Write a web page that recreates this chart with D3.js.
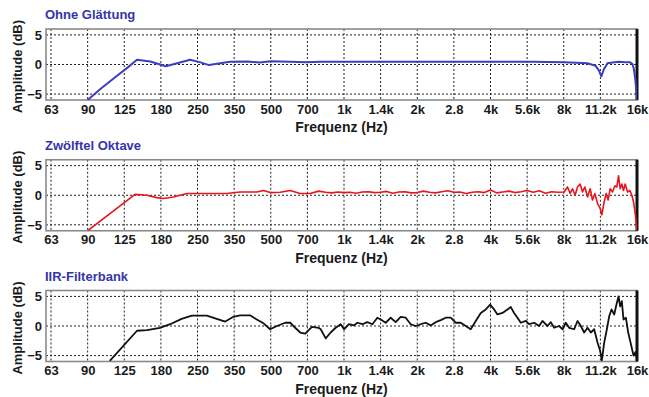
<!DOCTYPE html>
<html><head><meta charset="utf-8">
<script src="https://cdn.jsdelivr.net/npm/d3@7"></script>
<style>body{margin:0;background:#fff}svg{display:block}</style>
</head><body><svg id="c" width="649" height="397"></svg>
<script>
const tickFreqs = [62.5, 88.39, 125, 176.78, 250, 353.55, 500, 707.1, 1000, 1414.2, 2000, 2828.4, 4000, 5656.9, 8000, 11313.7, 16000];
const tickLabels = ["63","90","125","180","250","350","500","700","1k","1.4k","2k","2.8","4k","5.6k","8k","11.2k","16k"];
const yTicks = [-5, 0, 5];
const titles = ["Ohne Glättung", "Zwölftel Oktave", "IIR-Filterbank"];

// Ohne Glättung (blue)
const blueFreq = [88.4,100,115,130,141,160,185,210,233,255,279,310,340,400,450,500,600,700,800,1000,2000,4000,6000,8000,9000,10000,10800,11150,11420,11700,12100,12700,13500,14300,14930,15300,15510,15750,15900,16000];
const blueDb   = [-6,-4.1,-2.1,-0.4,0.8,0.5,-0.3,0.3,0.8,0.4,-0.1,0.2,0.45,0.5,0.35,0.55,0.45,0.4,0.45,0.45,0.45,0.45,0.45,0.4,0.3,0.2,-0.2,-1.0,-2.0,-0.8,0.2,0.35,0.45,0.4,0.4,0.1,-0.6,-2.5,-4.5,-6];

// Zwölftel Oktave (red)
const redFreq = [88.4,138.5,155,170,181,199,226,250,290,330,374,438,467,497,547,601,660,726,786,
  841,891,944,1000,1059,1122,1189,1260,1335,1414,1498,1587,1682,1782,1888,2000,2119,2245,2378,2520,2670,2828,2997,3175,3364,3564,3775,4000,4238,4490,4757,5040,5339,5657,5993,6350,6727,7127,7551,
  8030,8290,8500,8690,8910,9113,9340,9550,9770,10020,10270,10500,10740,11010,11290,11470,11730,11950,12180,12410,12690,12980,13220,13440,13640,13860,14080,14310,14630,14960,15240,15480,15780,16000];
const redDb = [-6,0.15,0,-0.4,-0.55,-0.3,0.3,0.3,0.3,0.3,0.55,0.55,0.8,0.45,0.5,0.8,0.3,0.3,0.7,
  0.5,0.4,0.55,0.45,0.5,0.35,0.55,0.6,0.45,0.5,0.65,0.35,0.55,0.6,0.4,0.45,0.7,0.5,0.4,0.6,0.75,0.5,0.55,0.3,0.5,0.6,0.45,0.9,0.4,0.55,0.7,0.45,0.6,0.8,0.5,0.75,0.35,0.6,0.5,
  0.55,1.4,0.3,1.1,0,1.4,1.9,0.55,1.4,-0.3,1.1,-0.8,0.3,-1.4,-2.2,-3.3,-1.1,0.3,-0.8,1.1,0.55,1.6,1.4,3.3,1.1,1.9,0.8,1.9,0.55,0.8,0,-1.1,-3.5,-6];

// IIR-Filterbank (black)
const blackFreq = [109,141,155,175,193,215,237,273,300,325,351,374,411,438,467,497,530,573,601,630,661,693,738,786,
  802,841,881,924,969,1000,1048,1099,1135,1190,1247,1308,1371,1415,1484,1556,1631,1710,1793,1880,1971,2066,2167,2272,2382,2498,2619,2746,2880,3018,3165,3318,3479,3648,3825,3986,4139,4272,4479,4696,4847,5001,5162,5327,5586,5765,6045,6338,6540,6858,7077,7305,7659,7906,8157,8421,8828,9113,9404,9706,10020,10340,10670,11010,11290,11470,11730,12030,12300,12570,12900,13220,13440,13640,13860,14080,14400,14720,15100,15480,15780,16000];
const blackDb = [-5.9,-0.8,-0.7,-0.3,0.3,1.2,1.75,1.75,1.2,0.75,1.55,1.8,1.8,1.1,0.45,-0.55,0,0.55,0.55,-0.3,-1.1,-1.3,-0.15,-0.3,
  -0.55,-2.1,-1.1,-0.3,0.3,-0.55,0.3,0.1,0.55,0.3,0.65,0.3,1.4,1.1,0.55,1.4,0.65,1.55,1.4,0.3,0,0.3,0.55,0.1,0.65,1.0,1.4,1.4,0.55,0.55,0,-0.55,0.85,2.2,2.8,3.6,2.8,1.95,2.2,2.8,3.2,2.2,1.4,0.55,0.85,0.3,0.55,0,0.85,0,0.65,-0.3,0,-0.55,0.55,-0.3,-0.55,0.85,0,-1.1,-0.3,-1.1,-0.55,-2.8,-4.2,-5.8,-2.8,-0.55,1.65,2.8,1.95,3.9,5.0,3.3,4.2,1.1,1.4,-1.1,-3.05,-5.0,-4.4,-5.8];

const series = [
  {f: blueFreq, v: blueDb, color: "#3a3fc0", w: 2},
  {f: redFreq, v: redDb, color: "#e8141e", w: 1.6},
  {f: blackFreq, v: blackDb, color: "#111", w: 1.8}
];

const svg = d3.select("#c");
const left = 46, right = 637, ph = 71, step = 130.75, top0 = 29;
const x = d3.scaleLog().domain([59.6, 16000]).range([left, right]);
const font = "'Liberation Sans', Arial, sans-serif";

series.forEach((s, i) => {
  const top = top0 + i * step;
  const y = d3.scaleLinear().domain([-6, 6]).range([top + ph, top]);
  const g = svg.append("g");
  g.append("clipPath").attr("id", "clip" + i).append("rect")
    .attr("x", left).attr("y", top).attr("width", right - left).attr("height", ph);
  g.selectAll(".vg").data(tickFreqs).enter().append("line")
    .attr("x1", d => x(d)).attr("x2", d => x(d)).attr("y1", top).attr("y2", top + ph)
    .attr("stroke", "#222").attr("stroke-width", 1).attr("stroke-dasharray", "2,2");
  g.selectAll(".hg").data(yTicks).enter().append("line")
    .attr("x1", left).attr("x2", right).attr("y1", d => y(d)).attr("y2", d => y(d))
    .attr("stroke", "#222").attr("stroke-width", 1).attr("stroke-dasharray", "2,2");
  g.append("rect").attr("x", left).attr("y", top).attr("width", right - left).attr("height", ph)
    .attr("fill", "none").attr("stroke", "#8a8a8a").attr("stroke-width", 1.6);
  g.append("line").attr("x1", right).attr("x2", right).attr("y1", top).attr("y2", top + ph)
    .attr("stroke", "#111").attr("stroke-width", 3);
  const xa = d3.axisBottom(x).tickValues(tickFreqs).tickFormat((d, k) => tickLabels[k]).tickSize(0).tickPadding(0);
  const xg = g.append("g").attr("transform", `translate(0,${top + ph})`).call(xa);
  xg.select(".domain").remove();
  xg.selectAll("text").attr("dy", null).attr("y", 13.5)
    .attr("font-family", font).attr("font-weight", "bold").attr("font-size", 13).attr("fill", "#1a1a1a");
  const ya = d3.axisLeft(y).tickValues(yTicks).tickSize(0).tickPadding(0);
  const yg = g.append("g").attr("transform", `translate(${left - 4},0)`).call(ya);
  yg.select(".domain").remove();
  yg.selectAll("text").attr("font-family", font).attr("font-weight", "bold").attr("font-size", 13).attr("fill", "#1a1a1a");
  g.append("text").attr("x", 45).attr("y", top - 10).text(titles[i])
    .attr("font-family", font).attr("font-weight", "bold").attr("font-size", 13).attr("fill", "#3535a8");
  g.append("text").attr("x", (left + right) / 2).attr("y", top + ph + 32).attr("text-anchor", "middle")
    .text("Frequenz (Hz)").attr("font-family", font).attr("font-weight", "bold").attr("font-size", 14).attr("fill", "#1a1a1a");
  g.append("text").attr("transform", `translate(21.5,${top + ph / 2 + 2}) rotate(-90)`).attr("text-anchor", "middle")
    .text("Amplitude (dB)").attr("font-family", font).attr("font-weight", "bold").attr("font-size", 13).attr("fill", "#1a1a1a");
  const data = s.f.map((f, k) => [f, s.v[k]]);
  g.append("path").datum(data).attr("clip-path", `url(#clip${i})`)
    .attr("d", d3.line().x(d => x(d[0])).y(d => y(d[1])))
    .attr("fill", "none").attr("stroke", s.color).attr("stroke-width", s.w).attr("stroke-linejoin", "round");
});
</script></body></html>
